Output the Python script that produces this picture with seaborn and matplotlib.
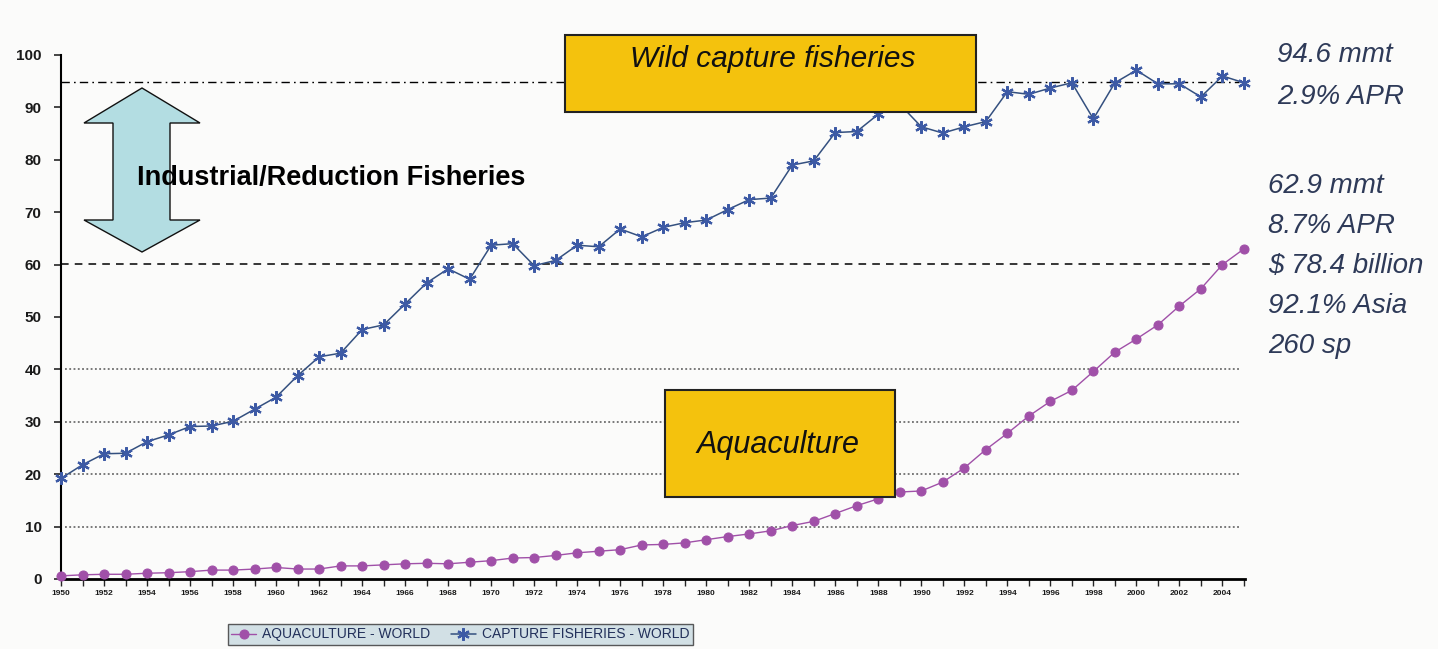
import numpy as np
import pandas as pd
import matplotlib
matplotlib.use("Agg")
import matplotlib.pyplot as plt
from matplotlib.patches import Rectangle, Polygon
import seaborn as sns

# ---------------- data ----------------
years = list(range(1950, 2006))
capture = [19.2, 21.8, 23.9, 24.0, 26.2, 27.5, 29.1, 29.2, 30.1, 32.4,
           34.7, 38.8, 42.4, 43.1, 47.6, 48.5, 52.5, 56.5, 59.2, 57.2,
           63.7, 64.0, 59.8, 60.8, 63.7, 63.4, 66.8, 65.3, 67.1, 68.0,
           68.5, 70.5, 72.4, 72.7, 79.0, 79.8, 85.2, 85.4, 88.7, 90.6,
           86.3, 85.1, 86.3, 87.3, 93.0, 92.5, 93.7, 94.7, 87.8, 94.7,
           97.1, 94.5, 94.5, 92.0, 96.0, 94.7]
aquaculture = [0.6, 0.8, 0.9, 0.9, 1.1, 1.2, 1.4, 1.7, 1.7, 1.9,
               2.2, 1.9, 1.9, 2.5, 2.5, 2.7, 2.9, 3.0, 2.9, 3.2,
               3.5, 4.0, 4.1, 4.5, 5.0, 5.3, 5.6, 6.5, 6.6, 6.9,
               7.5, 8.1, 8.6, 9.2, 10.2, 11.0, 12.5, 14.0, 15.3, 16.6,
               16.8, 18.5, 21.2, 24.7, 27.8, 31.1, 33.9, 36.0, 39.6, 43.3,
               45.8, 48.5, 52.1, 55.4, 60.0, 63.0]
series_names = ["AQUACULTURE - WORLD", "CAPTURE FISHERIES - WORLD"]
x_tick_labels = [str(y) for y in range(1950, 2005, 2)]
y_ticks = list(range(0, 101, 10))
grid_levels = [10, 20, 30, 40]
capture_ref = 94.8
aqua_ref = 60.2
capture_notes = ["94.6 mmt", "2.9% APR"]
aqua_notes = ["62.9 mmt", "8.7% APR", "$ 78.4 billion", "92.1% Asia", "260 sp"]

df = pd.DataFrame({
    "year": years * 2,
    "value": aquaculture + capture,
    "series": [series_names[0]] * len(years) + [series_names[1]] * len(years),
})

# ---------------- style ----------------
sns.set_style("white")
plt.rcParams["font.family"] = ["Liberation Sans", "DejaVu Sans"]

W, H = 1438, 649
fig = plt.figure(figsize=(W / 100, H / 100), dpi=100)
fig.patch.set_facecolor("#fbfbfa")


def fx(px):
    return px / W


def fy(py):
    return 1 - py / H


ax = fig.add_axes([fx(61), fy(579), fx(1245) - fx(61), fy(55) - fy(579)])
ax.set_facecolor("none")

purple = "#a050a8"
blue = "#3d5aa5"

sns.lineplot(data=df[df.series == series_names[0]], x="year", y="value",
             ax=ax, color=purple, linewidth=1.0, marker="o", markersize=6.5,
             markerfacecolor=purple, markeredgecolor=purple,
             label=series_names[0], clip_on=False, zorder=4)
sns.lineplot(data=df[df.series == series_names[1]], x="year", y="value",
             ax=ax, color="#34507f", linewidth=1.1, marker=(6, 2, 0),
             markersize=9, markeredgecolor=blue, markeredgewidth=1.6,
             label=series_names[1], clip_on=False, zorder=4)

# reference lines
for g in grid_levels:
    ax.axhline(g, xmin=0.003, xmax=0.995, color="#555555", linestyle=(0, (1.2, 1.6)),
               linewidth=1.1, zorder=1)
ax.axhline(aqua_ref, xmin=0.0, xmax=0.995, color="black", linestyle=(0, (5, 4)),
           linewidth=1.1, zorder=2)
ax.axhline(capture_ref, xmin=0.0, xmax=0.995, color="black",
           linestyle=(0, (6, 3, 1.2, 3)), linewidth=1.0, zorder=2)

ax.set_xlim(1950, 2005.05)
ax.set_ylim(0, 100)
ax.set_yticks(y_ticks)
ax.set_yticklabels([str(v) for v in y_ticks], fontsize=11, fontweight="bold", color="#1a1a1a")
ax.set_xticks(list(range(1950, 2005, 2)))
ax.set_xticklabels(x_tick_labels, fontsize=6, fontweight="bold", color="#1a1a1a")
ax.set_xticks(years, minor=True)
ax.tick_params(axis="y", which="major", direction="out", length=5, width=1.2, pad=9, left=True)
ax.tick_params(axis="x", which="both", direction="out", length=5, width=1.0, pad=3, bottom=True)
ax.set_xlabel("")
ax.set_ylabel("")
for s in ["top", "right"]:
    ax.spines[s].set_visible(False)
ax.spines["left"].set_linewidth(1.5)
ax.spines["bottom"].set_linewidth(2.0)
ax.spines["left"].set_color("black")
ax.spines["bottom"].set_color("black")

# legend
leg = ax.legend(loc="upper left", bbox_to_anchor=(fx(228), fy(624)),
                bbox_transform=fig.transFigure, ncol=2, frameon=True,
                fancybox=False, handlelength=1.8, borderaxespad=0,
                handletextpad=0.4, columnspacing=1.5, borderpad=0.25,
                prop={"family": "Liberation Sans", "size": 10})
leg.get_frame().set_facecolor("#c8dae0")
leg.get_frame().set_edgecolor("#333333")
leg.get_frame().set_linewidth(1.0)
for t in leg.get_texts():
    t.set_color("#22305a")

# yellow boxes
yellow = "#f4c20d"
fig.add_artist(Rectangle((fx(565), fy(112)), fx(976) - fx(565), fy(35) - fy(112),
                         transform=fig.transFigure, facecolor=yellow,
                         edgecolor="#222222", linewidth=1.5, zorder=5))
fig.text(fx(773), fy(59), "Wild capture fisheries", ha="center", va="center",
         fontsize=21.5, style="italic", color="#111111", zorder=6)
fig.add_artist(Rectangle((fx(665), fy(497)), fx(895) - fx(665), fy(390) - fy(497),
                         transform=fig.transFigure, facecolor=yellow,
                         edgecolor="#222222", linewidth=1.5, zorder=5))
fig.text(fx(778), fy(445), "Aquaculture", ha="center", va="center",
         fontsize=22, style="italic", color="#111111", zorder=6)

# double arrow
arrow_px = [(142, 88), (200, 123), (170, 123), (170, 220), (200, 220), (142, 252),
            (84, 220), (113, 220), (113, 123), (84, 123)]
fig.add_artist(Polygon([(fx(x), fy(y)) for x, y in arrow_px], closed=True,
                       transform=fig.transFigure, facecolor="#b3dde2",
                       edgecolor="#111111", linewidth=1.0, zorder=5))
fig.text(fx(137), fy(178), "Industrial/Reduction Fisheries", ha="left", va="center",
         fontsize=19.5, fontweight="bold", color="black", zorder=6)

# right-hand notes
note_color = "#2e3a58"
for i, t in enumerate(capture_notes):
    fig.text(fx(1277), fy(55 + 42 * i), t, ha="left", va="center", fontsize=20,
             style="italic", color=note_color)
for i, t in enumerate(aqua_notes):
    fig.text(fx(1268), fy(186 + 40 * i), t, ha="left", va="center", fontsize=20,
             style="italic", color=note_color)

fig.savefig("out.png", dpi=100, facecolor=fig.get_facecolor())
